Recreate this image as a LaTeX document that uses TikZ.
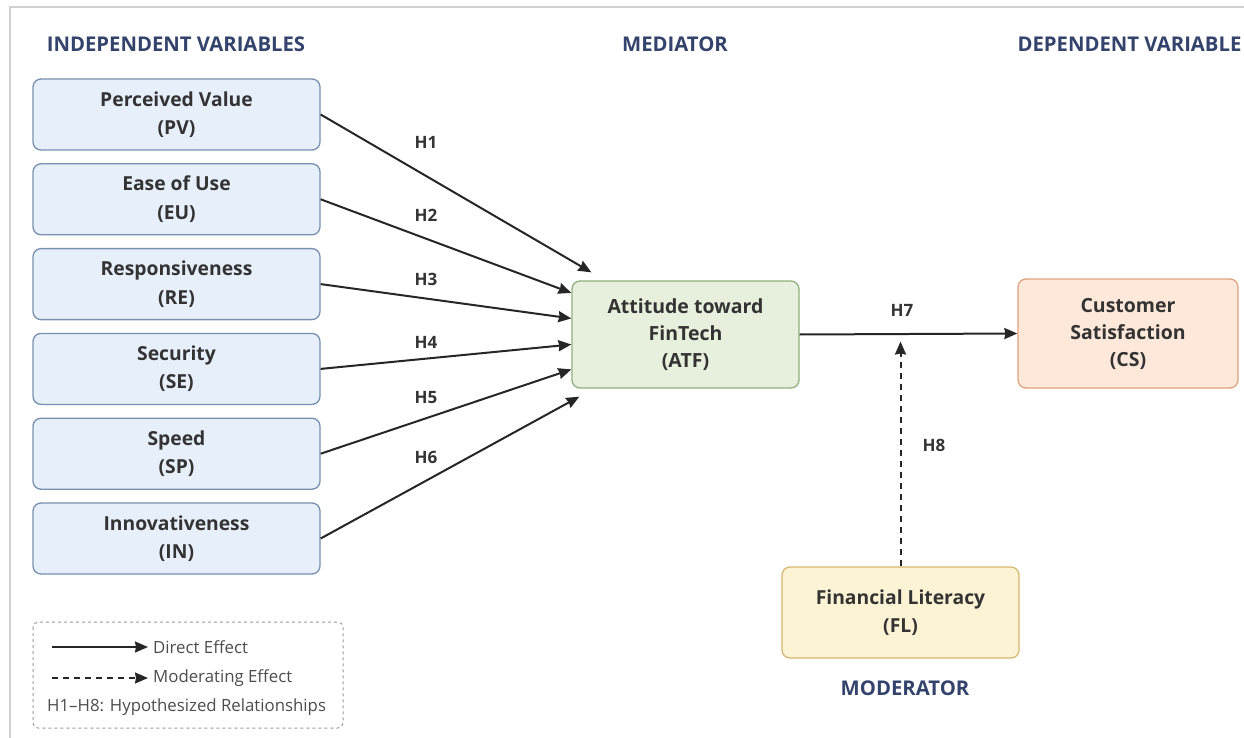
\documentclass[tikz,border=0pt]{standalone}
\usepackage{fontspec}
\setmainfont{Open Sans}
\usetikzlibrary{arrows.meta,positioning,calc}
\definecolor{headblue}{HTML}{34436C}
\definecolor{ivfill}{HTML}{E7EFFA}
\definecolor{ivdraw}{HTML}{7890B0}
\definecolor{medfill}{HTML}{E6F0DD}
\definecolor{meddraw}{HTML}{8FB07E}
\definecolor{depfill}{HTML}{FDE8DA}
\definecolor{depdraw}{HTML}{DFA27E}
\definecolor{modfill}{HTML}{FCF2D4}
\definecolor{moddraw}{HTML}{D6B870}
\definecolor{labgray}{HTML}{333333}
\tikzstyle{arrow} = [line width=2pt,draw=black!85,-{Stealth[length=13pt,width=11pt,inset=1pt]}]
\tikzstyle{modarrow} = [arrow,dash pattern=on 6pt off 5pt]
\tikzstyle{varbox} = [rectangle, rounded corners=8pt, line width=1.3pt, align=center, text=labgray, font=\fontsize{19.3}{28.5}\selectfont\bfseries]
\tikzstyle{heading} = [text=headblue, font=\fontsize{20.3}{22}\selectfont\bfseries]
\tikzstyle{hyp} = [text=labgray, font=\fontsize{17}{19}\selectfont\bfseries]
\tikzset{
	ivbox/.style = {varbox, fill=ivfill, draw=ivdraw, minimum width=287pt, minimum height=71pt},
	legendtext/.style = {text=black!70, font=\fontsize{16.8}{18}\selectfont, anchor=west, inner sep=0pt}
}

\begin{document}
\begin{tikzpicture}[x=1pt,y=-1pt,node distance=84.8pt]
\useasboundingbox (0,0) rectangle (1244,738);
\draw[line width=2pt,black!18] (10,738) -- (10,7) -- (1244,7);
%----------------------------------------------------------------------------
% Headings
\node (hIV) [heading] at (176,44) {INDEPENDENT VARIABLES};
\node (hMed) [heading] at (675,44) {MEDIATOR};
\node (hDep) [heading, anchor=west] at (1014,44) {DEPENDENT VARIABLE};
\node (hMod) [heading] at (905,688) {MODERATOR};

%----------------------------------------------------------------------------
% Placement of construct nodes
\node (PV) [ivbox] at (176.5,114.5) {Perceived Value\\(PV)};
\node (EU) [ivbox, below of = PV] {Ease of Use\\(EU)};
\node (RE) [ivbox, below of = EU] {Responsiveness\\(RE)};
\node (SE) [ivbox, below of = RE] {Security\\(SE)};
\node (SP) [ivbox, below of = SE] {Speed\\(SP)};
\node (IN) [ivbox, below of = SP] {Innovativeness\\(IN)};

\node (ATF) [varbox, fill=medfill, draw=meddraw, minimum width=227pt, minimum height=107pt, font=\fontsize{19.5}{27}\selectfont\bfseries] at (685.5,334.5) {Attitude toward\\FinTech\\(ATF)};
\node (CS) [varbox, fill=depfill, draw=depdraw, minimum width=220pt, minimum height=109pt, font=\fontsize{19.5}{27}\selectfont\bfseries] at (1128,333.5) {Customer\\Satisfaction\\(CS)};
\node (FL) [varbox, fill=modfill, draw=moddraw, minimum width=237pt, minimum height=91pt] at (900.5,612.5) {Financial Literacy\\(FL)};

%----------------------------------------------------------------------------
% Lines
\draw [arrow] (PV.east) -- ([xshift=20pt,yshift=8pt]ATF.north west);
\draw [arrow] (EU.east) -- (ATF.160);
\draw [arrow] (RE.east) -- (ATF.172);
\draw [arrow] (SE.east) -- (ATF.185);
\draw [arrow] (SP.east) -- (ATF.197);
\draw [arrow] (IN.east) -- ([xshift=8pt,yshift=-8pt]ATF.south west);

\draw [arrow] (ATF.east) -- (CS.west);
\coordinate (modpt) at (FL.north |- ATF.east);
\draw [modarrow, shorten >=7pt] (FL.north) -- (modpt);

% Hypothesis labels
\node (h1) [hyp] at (426,142) {H1};
\node (h2) [hyp] at (426,215) {H2};
\node (h3) [hyp] at (426,279) {H3};
\node (h4) [hyp] at (426,342) {H4};
\node (h5) [hyp] at (426,398) {H5};
\node (h6) [hyp] at (426,457) {H6};
\node (h7) [hyp] at (902,310) {H7};
\node (h8) [hyp] at (934,445) {H8};

%----------------------------------------------------------------------------
% Legend
\draw [black!40, line width=1pt, dashed, rounded corners=5pt] (33,622) rectangle (343,728);
\coordinate (lgDirect) at (52,647);
\coordinate (lgMod) at (52,678);
\node (lgDirectText) [legendtext] at (153,647) {Direct Effect};
\node (lgModText) [legendtext] at (153,678) {Moderating Effect};
\node (lgHyp) [legendtext] at (47,707) {H1--H8: Hypothesized Relationships};
\draw [arrow, line width=1.6pt] (lgDirect) -- ([xshift=-5pt]lgDirectText.west);
\draw [modarrow, line width=1.6pt] (lgMod) -- ([xshift=-5pt]lgModText.west);
\end{tikzpicture}
\end{document}
